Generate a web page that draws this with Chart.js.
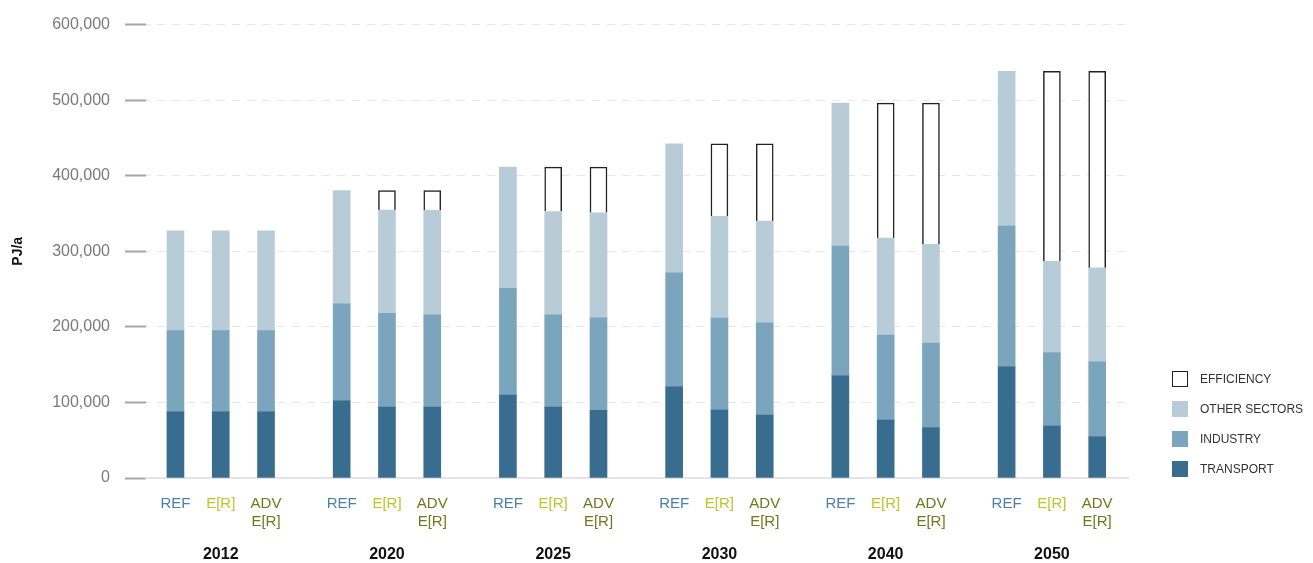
<!DOCTYPE html>
<html>
<head>
<meta charset="utf-8">
<script src="https://cdn.jsdelivr.net/npm/chart.js@4.4.1/dist/chart.umd.min.js"></script>
<style>
  body { margin: 0; background: #fff; font-family: "Liberation Sans", Arial, sans-serif; }
  #wrap { position: relative; width: 1313px; height: 563px; }
  #legend { position: absolute; left: 1172px; top: 371px; }
  .item { display: flex; align-items: center; height: 16px; margin-bottom: 14px; font-size: 12px; color: #333; }
  .box { width: 16px; height: 16px; margin-right: 12px; box-sizing: border-box; }
</style>
</head>
<body>
<div id="wrap">
  <canvas id="chart"></canvas>
  <div id="legend"></div>
</div>
<script>
const years = ["2012", "2020", "2025", "2030", "2040", "2050"];
const scenarios = ["REF", "E[R]", ["ADV", "E[R]"]];
const scenarioColors = ["#4b7fa6", "#b9c72c", "#6b7a1e"];

// order: per year -> REF, E[R], ADV E[R]  (PJ/a)
const transport = [
  87500, 87500, 87500,
  102000, 93800, 93800,
  109700, 93800, 89600,
  120700, 89900, 83300,
  135200, 76700, 66800,
  147100, 68700, 54600
];
const industry = [
  107500, 107500, 107500,
  128500, 124000, 122100,
  141300, 122200, 122200,
  150700, 121600, 122000,
  171800, 112300, 111600,
  186300, 97400, 99100
];
const otherSectors = [
  132000, 132000, 132000,
  150000, 136700, 138300,
  160300, 136600, 139200,
  170900, 134800, 134800,
  189000, 128500, 130900,
  204600, 120700, 124300
];

const seriesNames = ["EFFICIENCY", "OTHER SECTORS", "INDUSTRY", "TRANSPORT"];
const seriesColors = ["#ffffff", "#b8ccd7", "#7ba4bd", "#386d8f"];

// bar slots: one unit per bar, groups a bit wider apart
const groupStep = 3.67;
const xMin = -0.65, xMax = 21.03;
const barPos = [];
years.forEach((y, g) => scenarios.forEach((s, j) => barPos.push(g * groupStep + j)));
const yearPos = years.map((y, g) => g * groupStep + 1);

// efficiency = gap between REF total and the scenario total
const totals = transport.map((t, i) => t + industry[i] + otherSectors[i]);
const efficiency = totals.map((t, i) => {
  const ref = totals[i - (i % 3)];
  return ref - t > 0 ? ref - t : null;
});

const pts = arr => arr.map((v, i) => ({ x: barPos[i], y: v }));

new Chart(document.getElementById("chart"), {
  type: "bar",
  data: {
    datasets: [
      { label: "TRANSPORT", data: pts(transport), backgroundColor: seriesColors[3] },
      { label: "INDUSTRY", data: pts(industry), backgroundColor: seriesColors[2] },
      { label: "OTHER SECTORS", data: pts(otherSectors), backgroundColor: seriesColors[1] },
      { label: "EFFICIENCY", data: pts(efficiency), backgroundColor: "#ffffff", borderColor: "#222", borderWidth: 1.5 }
    ]
  },
  options: {
    responsive: true,
    maintainAspectRatio: false,
    animation: false,
    barThickness: 17,
    layout: { padding: { top: 24, right: 185, left: 0, bottom: 0 } },
    plugins: { legend: { display: false }, tooltip: { enabled: false } },
    scales: {
      x: {
        type: "linear",
        min: xMin, max: xMax,
        offset: false,
        stacked: true,
        weight: 0,
        grid: { display: false, drawTicks: false, offset: false },
        border: { display: true, color: "#e4e4e4", width: 2 },
        afterBuildTicks: scale => { scale.ticks = barPos.map(v => ({ value: v })); },
        afterFit: scale => { scale.height = 53; },
        ticks: {
          autoSkip: false, maxRotation: 0, padding: 16,
          font: { family: "Liberation Sans", size: 15, lineHeight: 1.26 },
          color: ctx => scenarioColors[ctx.index % 3],
          callback: (v, i) => scenarios[i % 3]
        }
      },
      xYear: {
        type: "linear",
        position: "bottom",
        min: xMin, max: xMax,
        offset: false,
        weight: 1,
        grid: { display: false, drawTicks: false, offset: false },
        border: { display: false },
        afterBuildTicks: scale => { scale.ticks = yearPos.map(v => ({ value: v })); },
        afterFit: scale => { scale.height = 32; },
        ticks: {
          autoSkip: false, maxRotation: 0, padding: 14,
          font: { family: "Liberation Sans", size: 16, weight: "bold" },
          color: "#111",
          callback: (v, i) => years[i]
        }
      },
      y: {
        stacked: true,
        min: 0, max: 600000,
        border: { display: false, dash: [8, 7], dashOffset: 4 },
        grid: { color: "#e6e6e6", tickColor: "#a6a6a6", tickLength: 21, tickWidth: 2 },
        afterFit: scale => { scale.width = 146; },
        ticks: {
          stepSize: 100000, padding: 15,
          font: { family: "Liberation Sans", size: 16 },
          color: "#7a7a7a",
          callback: v => v.toLocaleString("en-US")
        },
        title: {
          display: true, text: "PJ/a",
          font: { family: "Liberation Sans", size: 14, weight: "bold" },
          color: "#111",
          padding: { top: 10, bottom: 10 }
        }
      }
    }
  }
});

// legend
const legend = document.getElementById("legend");
seriesNames.forEach((name, i) => {
  const row = document.createElement("div");
  row.className = "item";
  const border = i === 0 ? "1.5px solid #222" : "none";
  row.innerHTML = `<div class="box" style="background:${seriesColors[i]};border:${border}"></div><span>${name}</span>`;
  legend.appendChild(row);
});
</script>
</body>
</html>
